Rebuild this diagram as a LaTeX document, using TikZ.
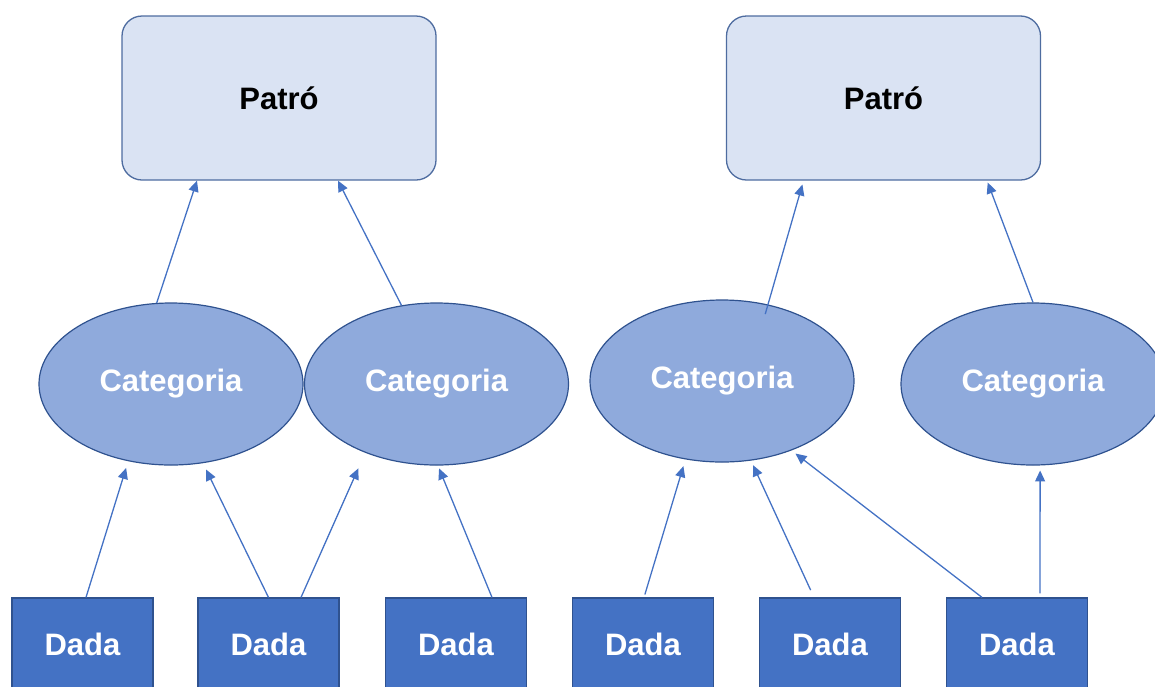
\documentclass[tikz,border=0pt]{standalone}
\usepackage{fontspec}
\setmainfont{Liberation Sans}
\usetikzlibrary{arrows.meta,shapes.geometric}
\definecolor{patrofill}{HTML}{DAE3F3}
\definecolor{catfill}{HTML}{8FAADC}
\definecolor{dadafill}{HTML}{4472C4}
\definecolor{edge}{HTML}{2F528F}
\definecolor{link}{HTML}{4472C4}
\tikzset{
  font=\fontsize{31}{37}\selectfont\bfseries,
  patro/.style={
    draw=edge!85,
    fill=patrofill,
    rounded corners=20pt,
    minimum width=314pt,
    minimum height=164pt,
    line width=1.3pt
  },
  categ/.style={
    ellipse,
    draw=edge,
    fill=catfill,
    text=white,
    minimum width=264pt,
    minimum height=162pt,
    inner sep=0pt,
    line width=1.2pt
  },
  dada/.style={
    draw=edge,
    fill=dadafill,
    text=white,
    minimum width=141pt,
    minimum height=92pt,
    line width=1.2pt
  },
  arrow/.style={-{Triangle[length=11pt,width=10pt]}, draw=link, line width=1.3pt}
}
\begin{document}
\begin{tikzpicture}[x=1pt, y=-1pt]
\useasboundingbox (0,0) rectangle (1155,686);

% --- Top: the two patterns
\node[patro] (patro1) at (279,98) {Patró};
\node[patro] (patro2) at (883.5,98) {Patró};

% --- Middle: categories
\node[categ] (cat1) at (171,384) {Categoria};
\node[categ] (cat2) at (436.5,384) {Categoria};
\node[categ] (cat3) at (722,381) {Categoria};
\node[categ] (cat4) at (1033,384) {Categoria};

% --- Bottom: data
\node[dada] (dada1) at (82.5,644) {Dada};
\node[dada] (dada2) at (268.5,644) {Dada};
\node[dada] (dada3) at (456,644) {Dada};
\node[dada] (dada4) at (643,644) {Dada};
\node[dada] (dada5) at (830,644) {Dada};
\node[dada] (dada6) at (1017,644) {Dada};

% --- Categories -> patterns
\draw[arrow] (cat1.100) -- ([xshift=-82pt]patro1.south);
\draw[arrow] (cat2.114) -- ([xshift=59pt]patro1.south);
\draw[arrow, shorten <=-10pt, shorten >=4pt] (cat3.59) -- ([xshift=-80pt]patro2.south);
\draw[arrow, shorten >=2pt] (cat4.north) -- ([xshift=103.5pt]patro2.south);

% --- Data -> categories
\draw[arrow, shorten >=7pt] ([xshift=3.5pt]dada1.north) -- (cat1.241);
\draw[arrow, shorten >=7pt] (dada2.north) -- (cat1.292);
\draw[arrow, shorten >=17pt] ([xshift=32.5pt]dada2.north) -- (cat2.224);
\draw[arrow, shorten >=3pt] ([xshift=36pt]dada3.north) -- (cat2.271);
\draw[arrow, shorten >=7pt, shorten <=3pt] ([xshift=1pt]dada4.north) -- (cat3.245);
\draw[arrow, shorten >=5pt, shorten <=8pt] ([xshift=-16pt]dada5.north) -- (cat3.290);
\draw[arrow, shorten >=5pt] ([xshift=-35pt]dada6.north) -- (cat3.315);
\draw[arrow, shorten >=5pt, shorten <=4pt] ([xshift=23pt]dada6.north) -- (cat4.275);

\end{tikzpicture}
\end{document}
